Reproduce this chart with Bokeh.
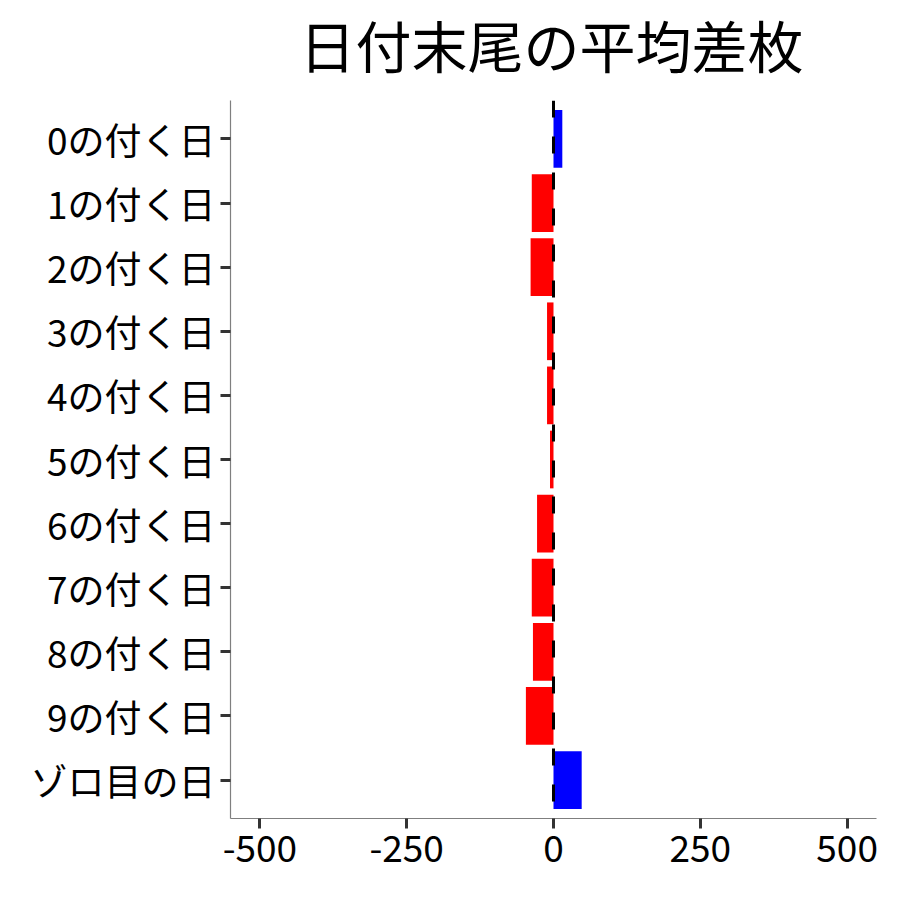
from bokeh.plotting import figure
from bokeh.layouts import column
from bokeh.models import FactorRange, Range1d, FixedTicker, Span, ColumnDataSource
from bokeh.core.properties import value
from bokeh.embed import file_html
from bokeh.resources import INLINE

categories = ["0の付く日", "1の付く日", "2の付く日", "3の付く日", "4の付く日",
              "5の付く日", "6の付く日", "7の付く日", "8の付く日", "9の付く日", "ゾロ目の日"]
values = [15, -37, -39, -11, -11, -6, -28, -37, -35, -47, 48]
x_ticks = [-500, -250, 0, 250, 500]
x_tick_labels = ["-500", "-250", "0", "250", "500"]
title_text = "日付末尾の平均差枚"

colors = ["blue" if v > 0 else "red" for v in values]
src = ColumnDataSource(dict(cat=categories, val=values, color=colors))

FONT = "Noto Sans CJK JP"
W = 884
TITLE_H = 100

xr = Range1d(-550, 550)

# title strip (a small figure holding the title text)
t = figure(width=W, height=TITLE_H, x_range=xr, y_range=Range1d(0, TITLE_H),
           output_backend="svg", toolbar_location=None,
           min_border_left=230, min_border_right=8, min_border_top=0,
           min_border_bottom=0)
t.axis.visible = False
t.grid.visible = False
t.outline_line_color = None
t.text(x=[0], y=[57], text=[title_text], text_font=value(FONT),
       text_font_size="56px", text_align="center", text_baseline="middle",
       text_color="black", x_offset=-2)

yr = FactorRange(factors=list(reversed(categories)), range_padding=0.1,
                 range_padding_units="absolute")

p = figure(width=W, height=784, y_range=yr, x_range=xr,
           output_backend="svg", toolbar_location=None,
           min_border_left=230, min_border_right=8, min_border_top=0,
           min_border_bottom=66)

p.hbar(y="cat", right="val", left=0, height=0.9, color="color", line_color=None, source=src)

p.add_layout(Span(location=0, dimension="height", line_color="black",
                  line_width=3, line_dash="17 19"))

p.xgrid.visible = False
p.ygrid.visible = False
p.outline_line_color = None
p.background_fill_color = "white"
p.border_fill_color = "white"

p.xaxis.ticker = FixedTicker(ticks=x_ticks)
p.xaxis.major_label_overrides = {tk: s for tk, s in zip(x_ticks, x_tick_labels)}
for ax in (p.xaxis[0], p.yaxis[0]):
    ax.axis_line_color = "#7f7f7f"
    ax.axis_line_width = 1.2
    ax.major_tick_line_color = "#333333"
    ax.major_tick_line_width = 3
    ax.major_tick_out = 10
    ax.major_tick_in = 0
    ax.minor_tick_line_color = None
    ax.major_label_text_font = FONT
    ax.major_label_text_font_size = "37px"
    ax.major_label_text_color = "black"
p.xaxis.major_label_standoff = 6
p.yaxis.major_label_standoff = 5

layout = column(t, p, spacing=0)

open("out.html", "w").write(file_html(layout, INLINE))
